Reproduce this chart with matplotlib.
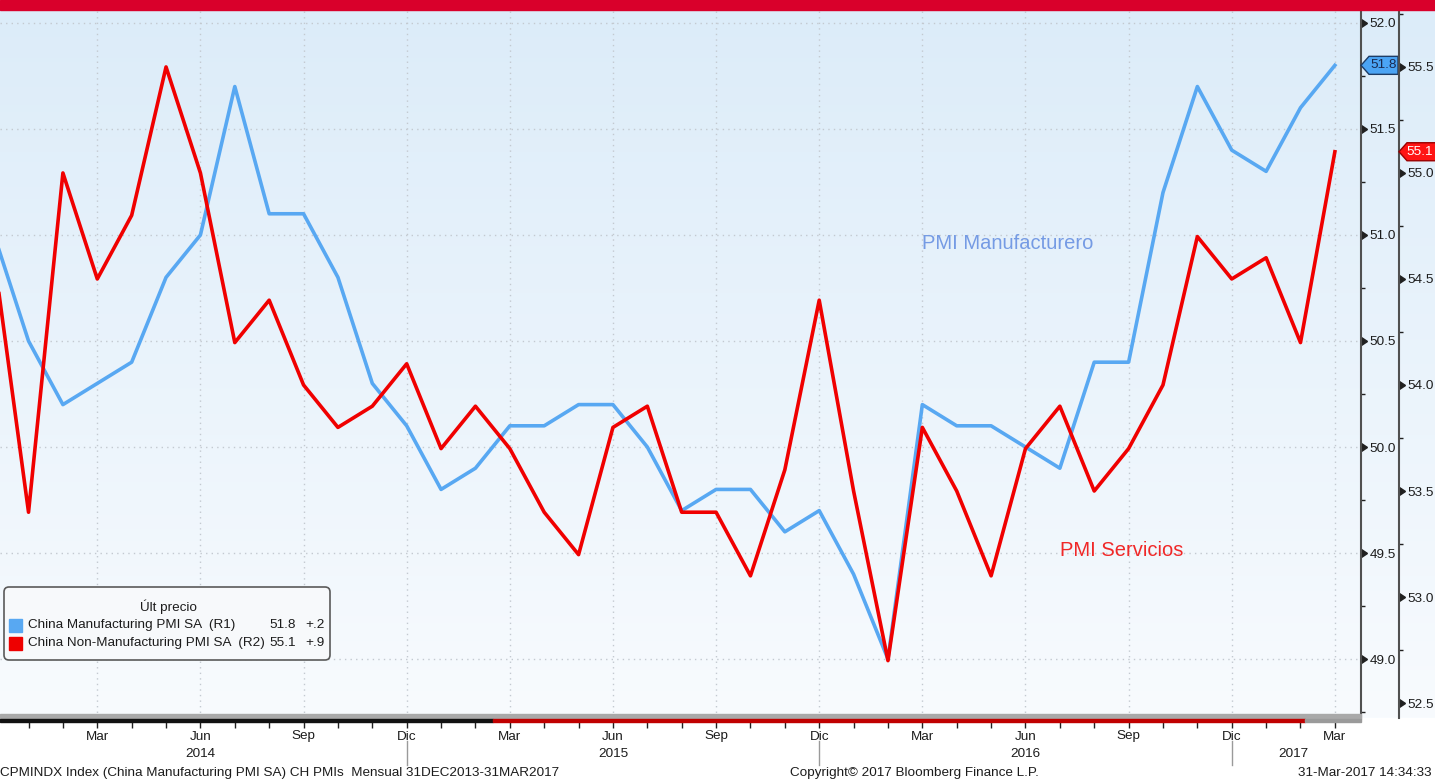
import numpy as np
import matplotlib
matplotlib.use('Agg')
import matplotlib.pyplot as plt
import matplotlib.markers as mmarkers
from matplotlib.patches import Rectangle, FancyBboxPatch, Polygon
from matplotlib.colors import LinearSegmentedColormap
from matplotlib.ticker import MultipleLocator
from matplotlib.transforms import Affine2D

plt.rcParams['font.family'] = ['Liberation Sans', 'DejaVu Sans']

# === Data: monthly readings Dec 2013 .. Mar 2017 ===
month_idx = np.arange(40)  # 0 = Dic 2013
manufacturing = [51.0,
                 50.5, 50.2, 50.3, 50.4, 50.8, 51.0, 51.7, 51.1, 51.1, 50.8, 50.3, 50.1,
                 49.8, 49.9, 50.1, 50.1, 50.2, 50.2, 50.0, 49.7, 49.8, 49.8, 49.6, 49.7,
                 49.4, 49.0, 50.2, 50.1, 50.1, 50.0, 49.9, 50.4, 50.4, 51.2, 51.7, 51.4,
                 51.3, 51.6, 51.8]
non_manufacturing = [54.6,
                     53.4, 55.0, 54.5, 54.8, 55.5, 55.0, 54.2, 54.4, 54.0, 53.8, 53.9, 54.1,
                     53.7, 53.9, 53.7, 53.4, 53.2, 53.8, 53.9, 53.4, 53.4, 53.1, 53.6, 54.4,
                     53.5, 52.7, 53.8, 53.5, 53.1, 53.7, 53.9, 53.5, 53.7, 54.0, 54.7, 54.5,
                     54.6, 54.2, 55.1]

month_ticks = [3, 6, 9, 12, 15, 18, 21, 24, 27, 30, 33, 36, 39]
month_labels = ['Mar', 'Jun', 'Sep', 'Dic', 'Mar', 'Jun', 'Sep', 'Dic',
                'Mar', 'Jun', 'Sep', 'Dic', 'Mar']
year_pos = [6, 18, 30, 37.8]
year_labels = ['2014', '2015', '2016', '2017']
year_breaks = [12, 24, 36]

r1_ticks = [49.0, 49.5, 50.0, 50.5, 51.0, 51.5, 52.0]
r2_ticks = [52.5, 53.0, 53.5, 54.0, 54.5, 55.0, 55.5]

BLUE = '#58a8f2'
RED = '#f00000'
FS = 9.7
TXT = '#1c1c1c'

W, H = 1435, 781
fig = plt.figure(figsize=(W / 100, H / 100), dpi=100, facecolor='white')
# pixel transform, y pointing down
pix = Affine2D().scale(1 / W, -1 / H).translate(0, 1) + fig.transFigure


def fx(p):
    return p / W


def fy(p):
    return 1 - p / H


# background gradient
bg = fig.add_axes([0, fy(718), 1, fy(10) - fy(718)], zorder=0)
cmap = LinearSegmentedColormap.from_list('bg', ['#dcecf9', '#f8fbfe'])
bg.imshow(np.linspace(0, 1, 256).reshape(-1, 1), aspect='auto', cmap=cmap,
          extent=[0, 1, 0, 1])
bg.axis('off')

ax1 = fig.add_axes([0, fy(718), fx(1361), fy(10) - fy(718)], zorder=1)
ax1.patch.set_visible(False)
ax2 = ax1.twinx()
ax2.set_zorder(2)
ax2.patch.set_visible(False)

ax1.plot(month_idx, manufacturing, color=BLUE, lw=2.6)
ax2.plot(month_idx, non_manufacturing, color=RED, lw=2.6)

ax1.set_xlim(0.17, 39.76)
ax1.set_ylim(48.722, 52.061)
ax2.set_ylim(48.722 + 3.7075, 52.061 + 3.7075)

# grid
ax1.set_yticks(r1_ticks)
ax1.set_xticks(month_ticks)
ax1.set_xticklabels(month_labels)
ax1.set_xticks(np.arange(1, 40), minor=True)
ax1.grid(True, which='major', color='#c3c9d0', ls=(0, (1, 3)), lw=1)

for sp in ['left', 'top', 'bottom']:
    ax1.spines[sp].set_visible(False)
    ax2.spines[sp].set_visible(False)
ax1.spines['right'].set_color('#505050')
ax1.spines['right'].set_linewidth(1.5)
ax2.spines['right'].set_position(('axes', 1399 / 1361))
ax2.spines['right'].set_color('#505050')
ax2.spines['right'].set_linewidth(1.5)

ax1.yaxis.tick_right()
ax1.yaxis.set_minor_locator(MultipleLocator(0.25))
ax2.set_yticks(r2_ticks)
ax2.yaxis.set_minor_locator(MultipleLocator(0.25))

for ax in (ax1, ax2):
    ax.tick_params(axis='y', which='major', direction='out', length=5.5, width=1,
                   color='#202020', pad=0.8, labelsize=FS, labelcolor=TXT)
    ax.tick_params(axis='y', which='minor', direction='out', length=3, width=1,
                   color='#202020')
ax1.tick_params(axis='x', which='both', direction='out', length=7.2, width=1,
                color='#202020', pad=1.8, labelsize=FS, labelcolor=TXT)

for ax in (ax1, ax2):
    for t in ax.yaxis.get_major_ticks():
        t.tick2line.set_marker(mmarkers.CARETRIGHTBASE)

# year labels and separators
xt = ax1.get_xaxis_transform()
for p, lab in zip(year_pos, year_labels):
    ax1.text(p, -0.0515, lab, transform=xt, ha='center', va='center',
             fontsize=FS, color=TXT, clip_on=False)
for p in year_breaks:
    ax1.plot([p, p], [-0.033, -0.067], transform=xt, color='#9a9a9a', lw=1,
             clip_on=False)

# bottom bar
fig.add_artist(Rectangle((0, 714), 1361, 5, transform=pix, color='#a9a9a9', zorder=3))
fig.add_artist(Rectangle((0, 719), 493, 3, transform=pix, color='#111111', zorder=3))
fig.add_artist(Rectangle((493, 719), 812, 3, transform=pix, color='#c00000', zorder=3))
fig.add_artist(Rectangle((1305, 719), 56, 3, transform=pix, color='#9a9a9a', zorder=3))

# top red bar
fig.add_artist(Rectangle((0, 0), W, 10, transform=pix, color='#d9002b', zorder=5))

# series annotations
ax1.text(27.0, 50.958, 'PMI Manufacturero', color='#759be4', fontsize=14.5,
         ha='left', va='center')
ax1.text(31.0, 49.514, 'PMI Servicios', color='#f02828', fontsize=14.5,
         ha='left', va='center')

# last value tags
yt1 = ax1.get_yaxis_transform()
h1 = 9 / 212
v1 = manufacturing[-1]
ax1.add_patch(Polygon([(1.0, v1), (1 + 8 / 1361, v1 + h1), (1 + 37 / 1361, v1 + h1),
                       (1 + 37 / 1361, v1 - h1), (1 + 8 / 1361, v1 - h1)],
                      closed=True, transform=yt1, fc='#4ba4f4', ec='#1d3c66',
                      lw=1, clip_on=False, zorder=6))
ax1.text(1 + 23 / 1361, v1, f'{v1:.1f}', transform=yt1, ha='center', va='center',
         fontsize=FS, color='#1a2a50', clip_on=False, zorder=7)

yt2 = ax2.get_yaxis_transform()
v2 = non_manufacturing[-1]
x0 = 1399 / 1361
ax2.add_patch(Polygon([(x0, v2), (x0 + 8 / 1361, v2 + h1), (x0 + 45 / 1361, v2 + h1),
                       (x0 + 45 / 1361, v2 - h1), (x0 + 8 / 1361, v2 - h1)],
                      closed=True, transform=yt2, fc='#ff1414', ec='#9a0000',
                      lw=1, clip_on=False, zorder=6))
ax2.text(x0 + 21 / 1361, v2, f'{v2:.1f}', transform=yt2, ha='center', va='center',
         fontsize=FS, color='white', clip_on=False, zorder=7)

# legend box
fig.add_artist(FancyBboxPatch((4, 587), 326, 73, boxstyle='round,pad=0,rounding_size=5',
                              transform=pix, fc='#f7f9fb', ec='#5a5a5a', lw=1.2, zorder=4))
fig.text(168, 607, 'Últ precio', transform=pix, ha='center', va='center',
         fontsize=FS, color=TXT, zorder=5)
rows = [(BLUE, 'China Manufacturing PMI SA  (R1)', manufacturing),
        ('#ee0000', 'China Non-Manufacturing PMI SA  (R2)', non_manufacturing)]
for i, (c, name, series) in enumerate(rows):
    yy = 625 + i * 18
    fig.add_artist(Rectangle((9, yy - 6.5), 13, 13, transform=pix, color=c, zorder=5))
    fig.text(28, yy, name, transform=pix, ha='left', va='center', fontsize=FS,
             color=TXT, zorder=5)
    fig.text(296, yy, f'{series[-1]:.1f}', transform=pix, ha='right', va='center',
             fontsize=FS, color=TXT, zorder=5)
    chg = series[-1] - series[-2]
    fig.text(325, yy, f'+{chg:.1f}'.replace('0.', '.'), transform=pix, ha='right',
             va='center', fontsize=FS, color=TXT, zorder=5)

# footer
fig.text(0, 773, 'CPMINDX Index (China Manufacturing PMI SA) CH PMIs  Mensual 31DEC2013-31MAR2017',
         transform=pix, ha='left', va='center', fontsize=FS, color=TXT)
fig.text(790, 773, 'Copyright© 2017 Bloomberg Finance L.P.', transform=pix,
         ha='left', va='center', fontsize=FS, color=TXT)
fig.text(1432, 773, '31-Mar-2017 14:34:33', transform=pix, ha='right', va='center',
         fontsize=FS, color=TXT)

fig.savefig('out.png', dpi=100, facecolor='white')
